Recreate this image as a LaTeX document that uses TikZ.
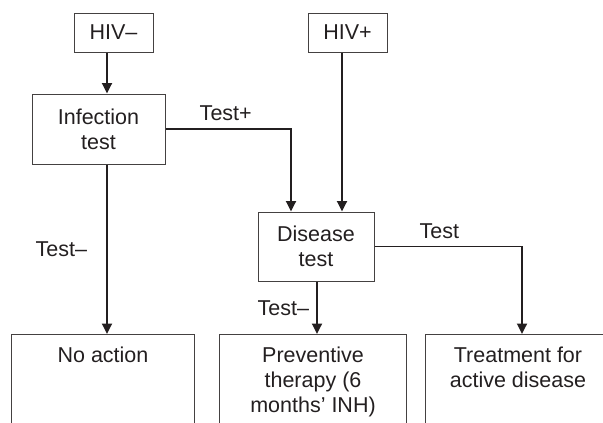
\documentclass[tikz,border=0pt]{standalone}
\usepackage{fontspec}
\setmainfont{Liberation Sans}
\usetikzlibrary{arrows.meta,calc}
\definecolor{ink}{HTML}{231F20}
\begin{document}
\begin{tikzpicture}[x=1pt,y=-1pt,
  font=\fontsize{21.5}{25}\selectfont,
  box/.style={draw=ink!85, line width=1pt, text=ink, inner sep=0pt, align=center},
  outbox/.style={box, anchor=north west},
  arr/.style={draw=ink, line width=1.8pt, -{Triangle[width=10pt,length=10.5pt]}},
  lbl/.style={text=ink, inner sep=0pt}]
\useasboundingbox (0,0) rectangle (603,423);
\clip (0,0) rectangle (603,423);
% boxes
\node[box, minimum width=79pt, minimum height=39pt] (hivneg) at (113.5,32.5) {HIV–};
\node[box, minimum width=79pt, minimum height=39pt] (hivpos) at (347.5,32.5) {HIV+};
\node[box, minimum width=133pt, minimum height=70pt] (inf) at (98.5,129) {Infection\\test};
\node[box, minimum width=116pt, minimum height=69pt] (dis) at (316,246.5) {Disease\\test};
\node[outbox] (noact) at (11,334) {\parbox[t][100pt][t]{183pt}{\centering\rule{0pt}{28pt}No action}};
\node[outbox] (prev) at (219,334) {\parbox[t][100pt][t]{187pt}{\centering\rule{0pt}{28pt}Preventive\\therapy (6\\months’ INH)}};
\node[outbox] (treat) at (425,334) {\parbox[t][100pt][t]{185pt}{\centering\rule{0pt}{28pt}Treatment for\\active disease}};
% column coordinates
\coordinate (cA) at (107,0);
\coordinate (cB) at (291,0);
\coordinate (cC) at (342,0);
\coordinate (cD) at (317,0);
\coordinate (cE) at (522,0);
% connectors
\draw[arr] (hivneg.south -| cA) -- (inf.north -| cA);
\draw[arr] (inf.south -| cA) -- node[lbl, left=19pt] {Test–} (noact.north -| cA);
\draw[arr] (inf.east) -- (inf.east -| cB) node[lbl, pos=0.48, above=7pt] {Test+} -- (dis.north -| cB);
\draw[arr] (hivpos.south -| cC) -- (dis.north -| cC);
\draw[arr] (dis.south -| cD) -- node[lbl, left=7pt] {Test–} (prev.north -| cD);
\draw[arr] (dis.east) -- (dis.east -| cE) node[lbl, pos=0.44, above=7pt] {Test} -- (treat.north -| cE);
\end{tikzpicture}
\end{document}
